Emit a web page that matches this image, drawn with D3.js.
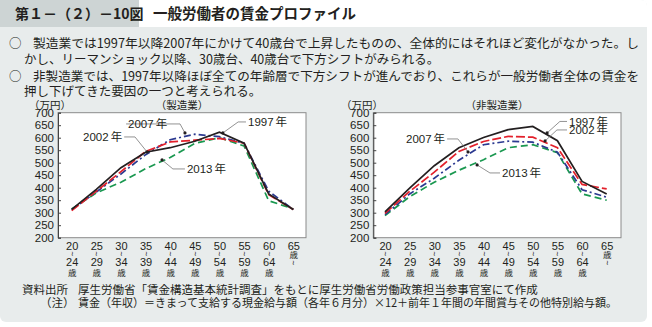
<!DOCTYPE html>
<html>
<head>
<meta charset="utf-8">
<script src="https://cdn.jsdelivr.net/npm/d3@7"></script>
<style>
  body { margin: 0; background: #fff; }
  svg { display: block; }
  text { font-family: "Liberation Sans", "Noto Sans CJK JP", sans-serif; fill: #231f20; }
  .jp { font-family: "Noto Sans CJK JP", sans-serif; }
</style>
</head>
<body>
<svg id="chart"></svg>
<script>
// ---- data ----
let ages = ['20', '25', '30', '35', '40', '45', '50', '55', '60', '65']
let ageEnds = ['24', '29', '34', '39', '44', '49', '54', '59', '64', '']
let yTicks = [200, 250, 300, 350, 400, 450, 500, 550, 600, 650, 700]

let years = ['1997', '2002', '2007', '2013']

// 製造業
let mfg1997 = [313, 393, 480, 542, 560, 586, 622, 578, 375, 313]
let mfg2002 = [308, 386, 464, 545, 583, 590, 597, 578, 372, 313]
let mfg2007 = [312, 383, 455, 532, 592, 614, 604, 578, 386, 313]
let mfg2013 = [315, 379, 422, 476, 521, 577, 600, 567, 348, 315]

// 非製造業
let non1997 = [303, 398, 488, 560, 601, 632, 645, 588, 425, 375]
let non2002 = [297, 385, 462, 545, 585, 605, 602, 560, 413, 395]
let non2007 = [292, 375, 438, 510, 572, 586, 582, 542, 392, 362]
let non2013 = [288, 364, 422, 470, 512, 560, 572, 540, 375, 350]

// label annotations: [year, text index pos, text value, elbow index, target index, target value, anchor]
let mfgNotes = [
    ['2007', 2.29, 655, 4.4, 4.6, 619, 'start'],
    ['1997', 7.16, 663, 6.76, 6.14, 619, 'start'],
    ['2002', 2.05, 603, 2.57, 3.06, 543, 'end'],
    ['2013', 4.68, 475, 4.11, 3.67, 511, 'start']
]
let nonNotes = [
    ['1997', 7.47, 665, 7.1, 6.58, 619, 'start'],
    ['2002', 7.47, 631, 6.98, 6.5, 587, 'start'],
    ['2007', 2.44, 595, 2.96, 3.37, 543, 'end'],
    ['2013', 4.75, 459, 4.26, 3.74, 491, 'start']
]

let width = 652
let height = 327

let colors = { '1997': '#231f20', '2002': '#e3202b', '2007': '#2b3990', '2013': '#1a9850' }
let dashes = { '1997': null, '2002': '9,3', '2007': '7,3,2,3', '2013': '7,4' }

let svg = d3.select('#chart')
svg.attr('width', width).attr('height', height)

// ---- frame ----
let drawFrame = () => {
    svg.append('rect').attr('x', 0).attr('y', 0).attr('width', width).attr('height', height)
        .attr('fill', '#ffffff')
    svg.append('rect').attr('x', 0).attr('y', 0).attr('width', 647).attr('height', 322)
        .attr('rx', 6).attr('fill', '#e8ecec')
    svg.append('rect').attr('x', 0).attr('y', 0).attr('width', 139).attr('height', 27)
        .attr('fill', '#cdd4d4')
    svg.append('path')
        .attr('d', 'M139,0 H641 Q647,0 647,6 V27 H139 Z')
        .attr('fill', '#ffffff')

    svg.append('text').attr('class', 'jp').attr('x', 15).attr('y', 19)
        .attr('font-size', 14).attr('font-weight', 'bold')
        .text('第１－（２）－10図')
    svg.append('text').attr('class', 'jp').attr('x', 153).attr('y', 19)
        .attr('font-size', 14.5).attr('font-weight', 'bold')
        .text('一般労働者の賃金プロファイル')

    let lines = [
        ['○', 9, 48, null],
        ['製造業では1997年以降2007年にかけて40歳台で上昇したものの、全体的にはそれほど変化がなかった。し', 33, 48, 606],
        ['かし、リーマンショック以降、30歳台、40歳台で下方シフトがみられる。', 24, 64, null],
        ['○', 9, 80.5, null],
        ['非製造業では、1997年以降ほぼ全ての年齢層で下方シフトが進んでおり、これらが一般労働者全体の賃金を', 33, 80.5, 606],
        ['押し下げてきた要因の一つと考えられる。', 24, 96, null]
    ]
    lines.forEach((l) => {
        let t = svg.append('text').attr('class', 'jp').attr('x', l[1]).attr('y', l[2])
            .attr('font-size', 12.5).text(l[0])
        if (l[3]) t.attr('textLength', l[3]).attr('lengthAdjust', 'spacingAndGlyphs')
    })

    svg.append('text').attr('class', 'jp').attr('x', 22).attr('y', 294).attr('font-size', 11.5)
        .text('資料出所')
    svg.append('text').attr('class', 'jp').attr('x', 78).attr('y', 294).attr('font-size', 11.5)
        .text('厚生労働省「賃金構造基本統計調査」をもとに厚生労働省労働政策担当参事官室にて作成')
    svg.append('text').attr('class', 'jp').attr('x', 40).attr('y', 307).attr('font-size', 11.5)
        .text('（注）')
    svg.append('text').attr('class', 'jp').attr('x', 78).attr('y', 307).attr('font-size', 11.5)
        .attr('textLength', 539).attr('lengthAdjust', 'spacingAndGlyphs')
        .text('賃金（年収）＝きまって支給する現金給与額（各年６月分）×12＋前年１年間の年間賞与その他特別給与額。')
}

// ---- one panel ----
let drawPanel = (opt) => {
    let xScale = d3.scalePoint().domain(ages).range([opt.x0, opt.x1])
    let yScale = d3.scaleLinear().domain([200, 700]).range([237.7, 112.7])
    let step = xScale.step()
    let xIdx = (i) => opt.x0 + i * step

    let g = svg.append('g')

    g.append('rect')
        .attr('x', opt.left).attr('y', yScale(700))
        .attr('width', opt.right - opt.left).attr('height', yScale(200) - yScale(700))
        .attr('fill', '#ffffff').attr('stroke', '#8a8a8a').attr('stroke-width', 1)

    let yAxis = d3.axisLeft(yScale).tickValues(yTicks).tickSize(-3).tickPadding(4)
    let ya = g.append('g').attr('transform', 'translate(' + opt.left + ',0)').call(yAxis)
    ya.select('.domain').attr('stroke', '#444')
    ya.selectAll('.tick line').attr('stroke', '#444')
    ya.selectAll('text').attr('font-size', 11.5).attr('fill', '#231f20')
        .style('font-family', '"Liberation Sans", sans-serif')

    let xAxis = d3.axisBottom(xScale).tickSize(0).tickFormat('')
    let xa = g.append('g').attr('transform', 'translate(0,' + yScale(200) + ')').call(xAxis)
    xa.select('.domain').remove()
    xa.selectAll('.tick').each(function (d, i) {
        let tk = d3.select(this)
        tk.append('text').attr('y', 12).attr('text-anchor', 'middle').attr('font-size', 11).text(d)
        if (ageEnds[i]) {
            tk.append('text').attr('y', 18).attr('text-anchor', 'middle').attr('font-size', 7).text('≀')
            tk.append('text').attr('y', 28.5).attr('text-anchor', 'middle').attr('font-size', 11).text(ageEnds[i])
            tk.append('text').attr('class', 'jp').attr('y', 38).attr('text-anchor', 'middle').attr('font-size', 8.5).text('歳')
        } else {
            tk.append('text').attr('class', 'jp').attr('y', 20).attr('text-anchor', 'middle').attr('font-size', 8.5).text('歳')
            tk.append('text').attr('y', 27).attr('text-anchor', 'middle').attr('font-size', 7).text('≀')
        }
    })

    g.append('text').attr('class', 'jp').attr('x', opt.unitX).attr('y', 108.5).attr('font-size', 10.5)
        .text('（万円）')
    g.append('text').attr('class', 'jp').attr('x', opt.titleX).attr('y', 108.5).attr('font-size', 10.5)
        .attr('text-anchor', 'middle').text(opt.title)

    let line = d3.line()
        .x((v, i) => xScale(ages[i]))
        .y((v) => yScale(v))

    let order = ['2013', '2007', '2002', '1997']
    order.forEach((yr) => {
        g.append('path')
            .datum(opt.series[yr])
            .attr('d', line)
            .attr('fill', 'none')
            .attr('stroke', colors[yr])
            .attr('stroke-width', 1.7)
            .attr('stroke-dasharray', dashes[yr])
    })

    opt.notes.forEach((n) => {
        let tx = xIdx(n[1])
        let ty = yScale(n[2])
        let ex = xIdx(n[3])
        let px = xIdx(n[4])
        let py = yScale(n[5])
        let startX = n[6] === 'start' ? tx - 2 : tx + 2
        g.append('path')
            .attr('d', 'M' + startX + ',' + ty + 'L' + ex + ',' + ty + 'L' + px + ',' + py)
            .attr('fill', 'none').attr('stroke', '#777').attr('stroke-width', 0.8)
        g.append('circle').attr('cx', px).attr('cy', py).attr('r', 1.6).attr('fill', '#231f20')
        let t = g.append('text').attr('x', tx).attr('y', ty + 4.2)
            .attr('text-anchor', n[6]).attr('font-size', 11.5)
        t.append('tspan').text(n[0])
        t.append('tspan').attr('class', 'jp').attr('dx', 2).text('年')
    })
}

drawFrame()

drawPanel({
    x0: 71.7, x1: 293.3, left: 58, right: 306, unitX: 29, titleX: 182, title: '（製造業）',
    series: { '1997': mfg1997, '2002': mfg2002, '2007': mfg2007, '2013': mfg2013 },
    notes: mfgNotes
})

drawPanel({
    x0: 385, x1: 606.7, left: 373.3, right: 621, unitX: 341, titleX: 497, title: '（非製造業）',
    series: { '1997': non1997, '2002': non2002, '2007': non2007, '2013': non2013 },
    notes: nonNotes
})
</script>
</body>
</html>
